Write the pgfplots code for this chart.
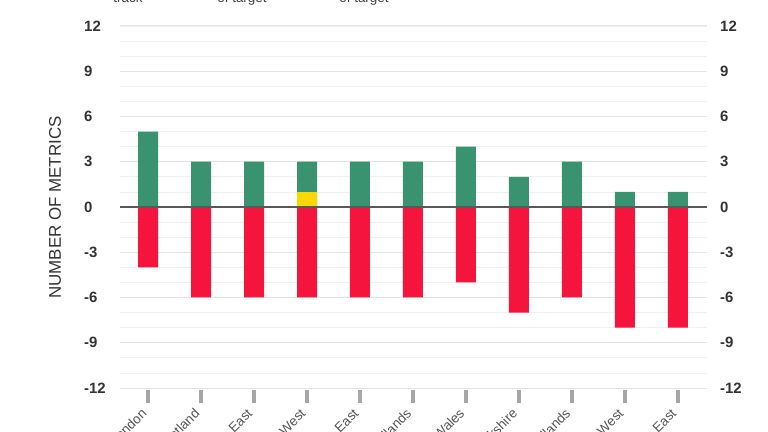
\documentclass[border=0pt]{standalone}
\usepackage{pgfplots}
\pgfplotsset{compat=1.18}
\usepackage{fontspec}
\setmainfont{Liberation Sans}
\definecolor{ontrack}{HTML}{3A9370}
\definecolor{near}{HTML}{FFD700}
\definecolor{off}{HTML}{F5143C}
\definecolor{txt}{HTML}{333333}
\definecolor{lbl}{HTML}{555555}

\begin{document}
\begin{tikzpicture}
\begin{axis}[
  at={(120bp,44bp)}, anchor=south west,
  scale only axis, width=587bp, height=362bp,
  xmin=-0.53, xmax=10.55, ymin=-12, ymax=12,
  axis line style={draw=none},
  xtick={0,...,10},
  xticklabels={London,Scotland,East,South West,South East,East Midlands,Wales,Yorkshire,West Midlands,North West,North East},
  xtick pos=bottom,
  major tick length=13bp,
  xtick style={draw=gray!70, line width=4.5bp, yshift=-2bp},
  xticklabel style={xshift=-4bp, yshift=-10bp, rotate=45, anchor=east, inner sep=0pt,
    font=\fontsize{13.5}{14}\selectfont, text=lbl},
  ytick={-12,-9,...,12},
  minor ytick={-12,-11,...,12},
  ymajorgrids, yminorgrids,
  major grid style={draw=black!11, line width=1bp},
  minor grid style={draw=black!6, line width=0.8bp},
  ytick style={draw=none}, minor tick style={draw=none},
  yticklabel style={anchor=west, inner sep=0pt, xshift=-36bp,
    font=\bfseries\fontsize{15}{15}\selectfont, text=txt},
  /pgf/number format/assume math mode=true,
  ybar, bar width=20bp, bar shift=0pt,
]
% on track
\addplot[fill=ontrack, draw=none] coordinates {(0,5) (1,3) (2,3) (3,3) (4,3) (5,3) (6,4) (7,2) (8,3) (9,1) (10,1)};
% close to target
\addplot[fill=near, draw=none] coordinates {(3,1)};
% off target
\addplot[fill=off, draw=none] coordinates {(0,-4) (1,-6) (2,-6) (3,-6) (4,-6) (5,-6) (6,-5) (7,-7) (8,-6) (9,-8) (10,-8)};
\draw[black!65, line width=1.5bp] (rel axis cs:0,0.5) -- (rel axis cs:1,0.5);
\end{axis}
\begin{axis}[
  at={(120bp,44bp)}, anchor=south west,
  scale only axis, width=587bp, height=362bp,
  xmin=-0.53, xmax=10.55, ymin=-12, ymax=12,
  axis line style={draw=none},
  xtick=\empty,
  ytick={-12,-9,...,12},
  yticklabel pos=right,
  ytick style={draw=none},
  yticklabel style={anchor=west, inner sep=0pt, xshift=13bp,
    font=\bfseries\fontsize{15}{15}\selectfont, text=txt},
  /pgf/number format/assume math mode=true,
]
\addplot[draw=none] coordinates {(0,0)};
\end{axis}
\node[rotate=90, font=\fontsize{17}{17}\selectfont, text=txt] at (55bp,224.5bp) {NUMBER OF METRICS};
% legend, mostly above the visible area
\begin{scope}[every node/.style={font=\fontsize{13.5}{14}\selectfont, text=black!75, inner sep=0pt}]
  \node[anchor=base] at (128bp,429bp) {track};
  \node[anchor=base] at (128bp,445bp) {On};
  \fill[ontrack] (92bp,436bp) rectangle (104bp,448bp);
  \node[anchor=base] at (242bp,429bp) {of target};
  \node[anchor=base] at (242bp,445bp) {Within 5\%};
  \fill[near] (196bp,436bp) rectangle (208bp,448bp);
  \node[anchor=base] at (364bp,429bp) {of target};
  \node[anchor=base] at (364bp,445bp) {Outside 5\%};
  \fill[off] (316bp,436bp) rectangle (328bp,448bp);
\end{scope}
\pgfresetboundingbox
\path[use as bounding box] (0,0) rectangle (768bp,432bp);
\end{tikzpicture}
\end{document}
